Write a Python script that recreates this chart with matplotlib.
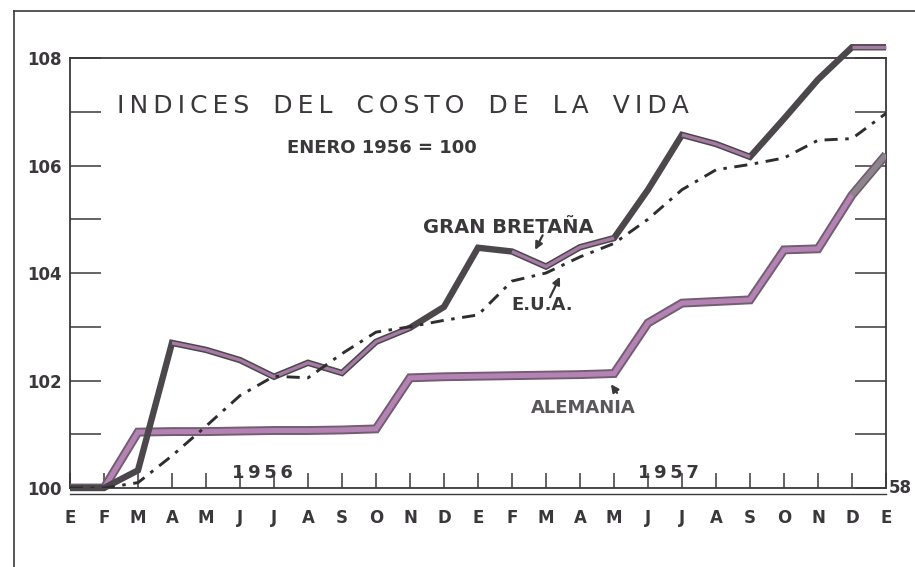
"""Indices del costo de la vida, 1956-1958 (recreated scan)."""

import matplotlib.pyplot as plt
from matplotlib.lines import Line2D

# month initials, Jan 1956 .. Jan 1958
months = ['E', 'F', 'M', 'A', 'M', 'J', 'J', 'A', 'S', 'O', 'N', 'D',
          'E', 'F', 'M', 'A', 'M', 'J', 'J', 'A', 'S', 'O', 'N', 'D', 'E']

gran_bretana = [100.0, 100.0, 100.33, 102.7, 102.57, 102.38, 102.07, 102.33,
                102.14, 102.72, 102.98, 103.37, 104.47, 104.4, 104.12, 104.48,
                104.65, 105.55, 106.57, 106.4, 106.16, 106.87, 107.6, 108.2, 108.2]

eua = [100.0, 100.0, 100.1, 100.6, 101.15, 101.72, 102.08, 102.05, 102.5,
       102.9, 103.0, 103.12, 103.22, 103.85, 104.0, 104.3, 104.55, 105.0,
       105.55, 105.92, 106.02, 106.14, 106.47, 106.5, 106.97]

alemania = [100.0, 100.0, 101.04, 101.05, 101.05, 101.06, 101.07, 101.07,
            101.08, 101.1, 102.05, 102.07, 102.08, 102.09, 102.1, 102.11,
            102.13, 103.07, 103.44, 103.47, 103.5, 104.43, 104.45, 105.45, 106.2]

y_ticks = [100, 101, 102, 103, 104, 105, 106, 107, 108]
y_labels = ['100', '', '102', '', '104', '', '106', '', '108']

x = list(range(len(months)))

ink = '#3b383b'
mauve = '#b483b4'
mauve_edge = '#725d72'
grey_line = '#4b474b'


def spaced(text):
    # wide hand lettering: thin space between letters, wider gap between words
    return '   '.join('\u2009'.join(word) for word in text.split())


fig = plt.figure(figsize=(9.15, 5.67), dpi=100)
ax = fig.add_axes([0.0765, 0.1393, 0.8918, 0.7584])
ax.set_xlim(0, 24)
ax.set_ylim(100, 108)

# Alemania: thick mauve band with dark edges
ax.plot(x, alemania, color=mauve_edge, lw=6.4, solid_joinstyle='miter',
        solid_capstyle='butt', zorder=3)
ax.plot(x, alemania, color=mauve, lw=3.6, solid_joinstyle='miter',
        solid_capstyle='butt', zorder=4)
ax.plot(x[23:], alemania[23:], color='#8a868a', lw=3.6,
        solid_capstyle='butt', zorder=4)

# Gran Bretana: dark line, mauve core in places
ax.plot(x, gran_bretana, color=grey_line, lw=4.6, solid_joinstyle='miter',
        solid_capstyle='butt', zorder=5, clip_on=False)
for a, b in [(3, 10), (13, 16), (18, 20), (23, 24)]:
    ax.plot(x[a:b + 1], gran_bretana[a:b + 1], color='#a57aa5', lw=2.4,
            solid_joinstyle='miter', solid_capstyle='butt', zorder=6,
            clip_on=False)

# E.U.A.: dash-dot
ax.plot(x, eua, color='#2f2d2f', lw=2.1, dashes=(4.5, 2.6, 1.2, 2.6),
        zorder=7)

# axes frame and ticks
for side in ['left', 'right', 'top', 'bottom']:
    ax.spines[side].set_color(ink)
    ax.spines[side].set_linewidth(1.3)
ax.plot([0, 24], [99.885, 99.885], color=ink, lw=1.0, clip_on=False)

ax.set_xticks(x)
ax.set_xticklabels(months, fontsize=12, fontweight='bold', color=ink)
ax.tick_params(axis='x', direction='in', length=11, width=1.1, pad=15,
               color=ink)
ax.set_yticks(y_ticks)
ax.set_yticklabels(y_labels, fontsize=12, fontweight='bold', color=ink)
ax.tick_params(axis='y', direction='in', length=22, width=1.1, pad=6,
               left=True, right=True, color=ink)

# titles and labels
ax.text(1.38, 106.98, spaced('INDICES DEL COSTO DE LA VIDA'), fontsize=18,
        ha='left', va='baseline', color=ink)
ax.text(9.18, 106.33, 'ENERO 1956 = 100', fontsize=13, fontweight='bold',
        ha='center', va='center', color=ink)
ax.text(5.65, 100.28, '1\u20099\u20095\u20096', fontsize=13,
        fontweight='bold', ha='center', va='center', color=ink)
ax.text(17.6, 100.28, '1\u20099\u20095\u20097', fontsize=13,
        fontweight='bold', ha='center', va='center', color=ink)
ax.text(24.08, 100.0, '58', fontsize=12, fontweight='bold',
        ha='left', va='center', color=ink)

ax.text(12.9, 104.84, 'GRAN BRETAÑA', fontsize=14, fontweight='bold',
        ha='center', va='center', color=ink)
ax.text(13.9, 103.4, 'E.U.A.', fontsize=13, fontweight='bold',
        ha='center', va='center', color=ink)
ax.text(15.09, 101.49, 'ALEMANIA', fontsize=13, fontweight='bold',
        ha='center', va='center', color='#5a565a')

arrow = dict(arrowstyle='-|>', color=ink, lw=1.6, mutation_scale=11,
             shrinkA=0, shrinkB=0)
ax.annotate('', xy=(13.68, 104.43), xytext=(13.9, 104.7), arrowprops=arrow)
ax.annotate('', xy=(14.41, 103.93), xytext=(14.12, 103.55), arrowprops=arrow)
ax.annotate('', xy=(15.91, 101.93), xytext=(16.09, 101.77), arrowprops=arrow)

# outer border of the scanned sheet
fig.add_artist(Line2D([14 / 915, 14 / 915], [0, 1 - 11 / 567],
                      transform=fig.transFigure, color=ink, lw=1.2))
fig.add_artist(Line2D([14 / 915, 1], [1 - 11 / 567, 1 - 11 / 567],
                      transform=fig.transFigure, color=ink, lw=1.2))

fig.savefig('out.png', dpi=100, facecolor='white')
